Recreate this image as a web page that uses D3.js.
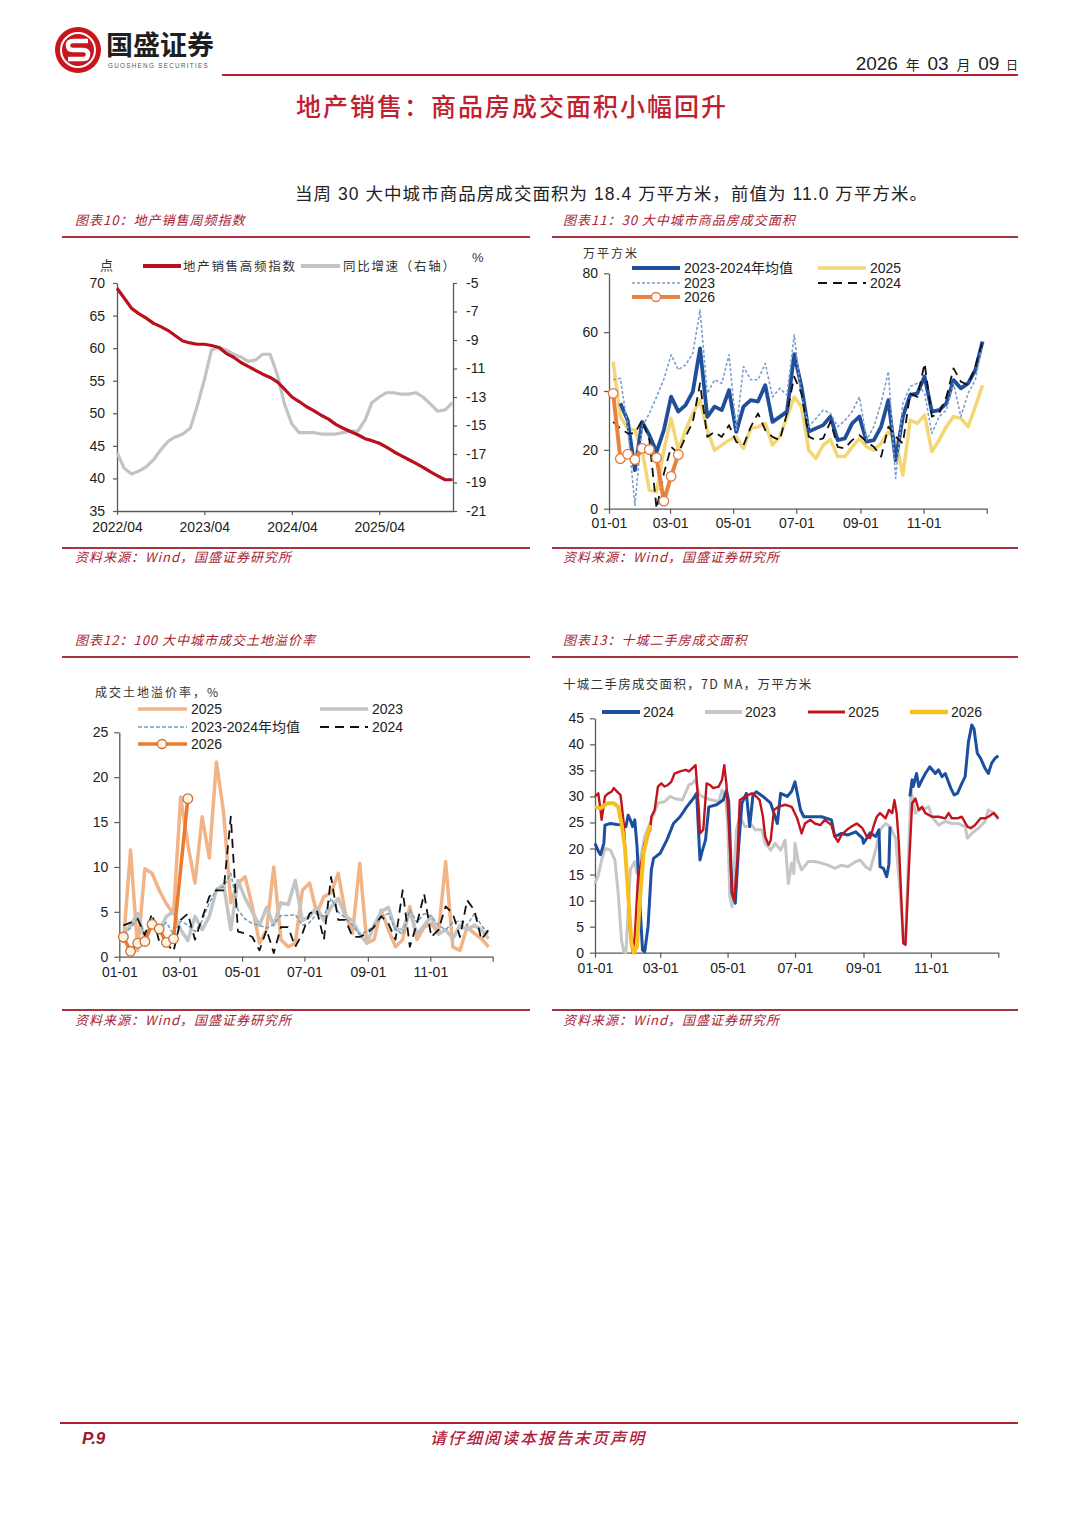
<!DOCTYPE html>
<html><head><meta charset="utf-8">
<script src="https://cdn.jsdelivr.net/npm/d3@7"></script>
<style>body{margin:0;background:#fff} svg{display:block}</style>
</head><body><svg id="page" width="1080" height="1526"></svg>
<script>
// ---------------- DATA ----------------
// Chart 10: monthly, starting 2022-04
const c10Start = [2022, 3];
const salesIndex = [69.2,67.7,66.1,65.3,64.6,63.8,63.3,62.7,61.9,61.1,60.8,60.6,60.6,60.4,60.1,59.2,58.6,57.8,57.2,56.6,56.0,55.5,54.8,53.7,52.5,51.8,51.0,50.4,49.7,49.1,48.3,47.7,47.2,46.7,46.1,45.8,45.4,44.8,44.1,43.5,42.9,42.3,41.7,41.0,40.4,39.8,39.8];
const salesYoY = [-16.9,-18.0,-18.4,-18.2,-17.9,-17.4,-16.7,-16.1,-15.8,-15.6,-15.2,-13.7,-11.8,-9.7,-9.5,-9.7,-10.0,-10.2,-10.5,-10.4,-10.0,-10.0,-11.5,-13.5,-14.9,-15.5,-15.5,-15.5,-15.6,-15.6,-15.6,-15.5,-15.4,-15.4,-14.6,-13.4,-13.0,-12.7,-12.7,-12.8,-12.8,-12.7,-13.0,-13.5,-14.0,-13.9,-13.4];
const c10LeftTicks = [35,40,45,50,55,60,65,70];
const c10RightTicks = [-21,-19,-17,-15,-13,-11,-9,-7,-5];
const c10XTicks = ['2022/04','2023/04','2024/04','2025/04'];

// Chart 11: weekly (week i), 万平方米
const area2023_24avg = [null,35.8,30.1,13.1,29.5,25,19.3,26.7,38.1,33,35.2,39.8,54.5,31.2,34.7,33.5,40.3,26.1,34.7,36.9,36.4,42,29.5,31.2,33,52.5,41.5,26.2,27.3,28.4,31.3,23.3,23.9,29,31.3,22.8,23.3,27.9,36.9,16.5,31.3,38.6,39.2,44.9,33,33.5,35.8,43.7,40.9,42.6,47.1,56.8];
const area2023 = [43.8,44.3,28,1.1,27.8,32.4,38,44,52.3,47.2,48.9,52.8,67.5,39.2,43.8,42.6,52.3,26.7,48.3,43.8,43.8,49.4,38,40.9,38.6,59.1,38,27.9,30.7,33.5,32.4,27.9,30,33,38,23.3,28,36,46.6,10.3,35.8,41.5,42.6,39.2,25.6,31.3,33.5,42.6,31.3,39.2,43.7,56.2];
const area2024 = [29.5,27.3,25.6,25.6,30.1,23.3,0,11.9,21,18.8,24.4,29.5,42.6,24.4,26.1,24.4,28.4,22.7,21.6,27.8,32.4,26.7,24.4,23.3,32.4,44.9,39.2,24.5,23.3,23.9,29.6,21,20.5,23.3,25,22.8,21,17.7,27.9,24.5,22.2,39.2,38,49.4,31.3,32.4,38,47.7,43.2,42,48.3,56.8];
const area2025 = [50,31.2,27.3,26.7,19.9,6.3,5.7,19.9,30.7,19.9,26.7,32.4,36.9,26.7,19.9,21.6,23.3,24.4,20.5,27.3,27.8,29,21.6,24.4,31.2,38,34.7,19.9,17.1,21.6,23.5,17.7,17.7,21,23.8,21,19.9,22.2,26.2,23.3,11.4,30.1,29,31.8,19.4,23.3,27.9,31.3,30.7,27.9,34.7,42];
const area2026 = [39.2,17.0,18.5,16.7,20.5,20.1,17.3,2.6,11.0,18.4];
const c11YTicks = [0,20,40,60,80];

// Chart 12: weekly, 溢价率 %
const land2025 = [1.5,11.9,0.7,9.8,9.3,7.4,5.9,4.8,17.8,12.5,8.2,15.6,11.0,21.7,16.0,6.0,8.2,8.9,5.6,1.5,3.0,10.0,1.9,1.1,1.5,7.4,8.2,4.8,6.7,7.1,9.3,4.8,2.6,10.4,1.5,1.9,5.2,3.0,1.1,1.9,5.6,1.9,3.3,3.7,2.6,10.6,1.1,0.7,3.3,2.6,2.0,1.1];
const land2023 = [2.5,3.5,4.8,2.0,3.8,2.8,4.5,5.0,3.0,1.8,4.5,3.0,4.5,7.5,8.0,3.0,8.5,6.5,5.0,3.5,5.5,3.5,6.0,5.8,8.5,4.0,4.5,5.5,4.0,5.5,6.5,4.5,4.0,2.5,1.5,3.5,5.0,5.5,3.0,3.0,5.0,2.5,3.5,4.5,2.5,3.0,2.0,3.5,3.0,3.5,3.0,2.0];
const land2023_24avg = [2.5,3.2,4.3,2.5,3.5,3.0,3.8,2.5,4.0,3.5,2.8,4.0,6.0,7.5,7.8,9.3,5.2,4.2,3.7,3.5,3.2,3.6,4.6,4.6,4.7,3.5,3.8,4.8,4.5,6.5,5.0,4.3,3.5,2.5,2.8,3.5,4.5,4.8,3.0,2.5,5.2,3.8,4.8,4.5,3.5,3.0,3.8,4.0,3.5,4.8,3.5,2.5];
const land2024 = [3.5,3.8,4.2,2.4,4.8,1.7,1.5,0.6,4.1,4.8,1.9,4.3,6.7,7.4,7.4,15.6,2.8,2.6,2.2,0.7,3.0,0.4,3.3,3.3,1.1,2.6,4.8,5.2,1.9,8.9,4.1,4.1,2.2,2.2,2.6,3.3,4.5,3.7,1.9,7.4,1.1,3.7,7.0,2.2,3.0,5.6,4.8,2.2,6.3,5.2,1.9,3.0];
const land2026 = [2.2,0.6,1.5,1.7,3.6,3.1,1.6,2.0,null,17.6];
const c12YTicks = [0,5,10,15,20,25];

// Chart 13: 7D MA, day of year -> value
const sh2024Day = [0,3,5,8,9,14,20,26,28,30,32,34,36,38,41,43,45,48,51,53,59,65,71,77,83,89,92,95,97,100,103,110,116,119,121,124,127,130,133,137,140,143,146,152,159,165,168,174,178,181,186,189,193,205,214,217,223,229,236,242,243,249,254,257,258,261,264,266,267,276,285,287,288,291,293,296,299,303,308,311,314,317,322,325,328,332,335,338,341,343,346,349,353,356,359,362,365];
const sh2024Val = [21,19.5,18.8,21,24.5,24.8,24.6,24.5,24.2,26.4,25.5,24.2,25.5,20.5,8,0.5,0.2,5,15.9,18.1,19.1,21.6,24.8,26.1,28,29.6,30.6,17.8,19.5,21.6,28,28.4,29.3,31.2,29,11.4,9.5,20.4,28.7,30.6,24.2,30.3,30.9,30,28.7,24.8,30.6,30,31,32.8,27.4,26.1,26.1,26.1,25.5,22.3,22.9,22.6,23.2,22,21,23,22.3,23.6,16.5,16.2,14.6,17,24.2,null,30,33.2,31.9,34.4,31.9,33.2,34.4,35.7,34.4,35.1,33.8,34.4,31.6,30.3,30.6,32.5,33.8,40.5,43.7,43,38.3,37.3,35.4,34.4,36.4,37.3,37.8];
const sh2023Day = [0,3,6,9,14,18,21,24,26,28,30,32,36,38,42,45,51,57,63,68,72,79,85,88,91,94,97,101,106,112,115,118,120,122,124,128,131,136,142,145,151,154,159,163,168,172,175,178,180,181,184,187,193,199,205,211,217,223,229,236,240,245,249,254,258,263,267,272,276,279,281,284,286,290,293,299,302,305,311,317,323,329,335,337,341,347,353,356,361,365];
const sh2023Val = [13.3,14.9,17.8,20,19.7,17.8,11.4,2.4,0.2,0,8,16,17.5,15.2,19,22.3,25.5,28.7,29,30,29.6,29.3,32.2,32.5,33.2,30.5,30,29.6,29.3,29,31.2,30,25,10.8,8.8,23.6,26.1,24.2,24.5,23.6,23.6,21,19.7,21,19.7,21.6,13.3,17.2,15.2,21,17.5,15.9,17.5,17.5,17.2,16.8,16.2,16.8,16.5,17.5,17.8,16.5,15.9,19.7,23.6,24.8,24.2,22,12,3,2,20,31.2,26.8,27.4,27.7,28,26.1,24.5,25.2,24.8,24.8,24.2,22,22.9,23.9,25.2,27.4,26.8,25.5];
const sh2025Day = [0,3,5,6,9,12,15,17,20,23,24,26,29,32,34,36,39,43,45,50,51,54,57,60,63,66,69,72,77,82,85,88,91,94,95,98,101,104,107,112,115,117,119,121,124,126,129,131,136,142,146,149,152,154,157,159,162,166,172,178,183,187,190,195,199,204,208,214,217,220,223,228,232,237,242,246,249,252,255,258,263,266,269,271,273,275,279,281,284,287,290,293,296,299,305,311,317,320,323,328,332,337,340,344,349,353,356,361,365];
const sh2025Val = [30,30.6,27.4,25.5,30,30.6,30.9,31.6,30.9,30.3,28.7,24.8,14,3.1,0,3.1,14.6,18.4,21,23.6,26.1,27.4,31.9,32.5,31.9,32.2,32.8,34.4,34.8,35.1,34.8,35.4,36,27.4,22.9,23.6,32.5,32.2,31.6,31.9,33.2,36,32.2,25,11.4,10.1,18.4,29.3,30,30.6,30,29.3,26.1,22.3,20.7,21.6,27.4,28,28.4,28,25.8,22.9,24.8,25.5,24.8,24.5,25.5,24.5,22.3,21.3,22.6,23.6,24.2,24.8,23.9,22.3,22,24.2,26.1,26.8,25.8,27.4,26.8,29.3,26.8,21,1.8,1.5,15.9,28.7,29.6,27.4,28,26.8,26.1,26.1,25.8,26.8,25.8,25.8,26.1,24.2,23.9,24.5,25.8,25.8,26.1,26.8,25.8];
const sh2026Day = [0,5,11,17,21,24,27,30,33,35,38,41,44,48,50];
const sh2026Val = [28,27.7,28.7,28.7,28,24.8,20.4,11.4,1.8,0,1.2,11.4,19.1,22.9,24.5];
const c13YTicks = [0,5,10,15,20,25,30,35,40,45];
const monthTicks = [0,2,4,6,8,10]; // Jan, Mar, May, Jul, Sep, Nov

// ---------------- HELPERS ----------------
const svg = d3.select('#page');
const NUM = "'Liberation Sans', Arial, 'Noto Sans CJK SC', sans-serif";
const CJK = "'Noto Sans CJK SC', 'Noto Sans', sans-serif";
const DRED = '#a82334';
const AX = '#595959';

function txt(x, y, s, o = {}) {
  const t = svg.append('text').attr('x', x).attr('y', y).text(s)
    .attr('font-family', o.f || CJK).attr('font-size', o.size || 13)
    .attr('fill', o.fill || '#222').attr('text-anchor', o.anchor || 'start')
    .attr('font-weight', o.weight || 'normal').attr('font-style', o.style || 'normal');
  if (o.ls != null) t.attr('letter-spacing', o.ls);
  return t;
}
function hline(x1, x2, y, c, w) {
  svg.append('line').attr('x1', x1).attr('x2', x2).attr('y1', y).attr('y2', y)
    .attr('stroke', c).attr('stroke-width', w);
}
function styleAxis(g, size) {
  g.attr('font-family', null).attr('font-size', null);
  g.select('.domain').attr('stroke', AX).attr('stroke-width', 1.3);
  g.selectAll('.tick line').attr('stroke', AX).attr('stroke-width', 1.2);
  g.selectAll('.tick text').attr('font-family', NUM).attr('font-size', size).attr('fill', '#222');
}
function drawSeries(g, xs, ys, x, y, st) {
  const pts = xs.map((d, i) => [d, ys[i]]);
  const line = d3.line().defined(d => d[1] != null).x(d => x(d[0])).y(d => y(d[1]));
  g.append('path').datum(pts).attr('d', line).attr('fill', 'none')
    .attr('stroke', st.c).attr('stroke-width', st.w)
    .attr('stroke-dasharray', st.dash || null)
    .attr('stroke-linejoin', 'round').attr('stroke-linecap', st.cap || 'butt');
  return pts;
}
function legendLine(x1, x2, y, st) {
  svg.append('line').attr('x1', x1).attr('x2', x2).attr('y1', y).attr('y2', y)
    .attr('stroke', st.c).attr('stroke-width', st.w).attr('stroke-dasharray', st.dash || null);
}
const doy = d => new Date(2025, 0, 1 + d);
const weekDates = n => d3.range(n).map(i => new Date(2025, 0, 5 + 7 * i));
const fmtMD = d3.timeFormat('%m-%d');
const plain = d => String(d);

// ---------------- HEADER ----------------
svg.append('circle').attr('cx', 78).attr('cy', 50).attr('r', 23).attr('fill', '#c8161d');
svg.append('circle').attr('cx', 78).attr('cy', 50).attr('r', 17).attr('fill', 'none').attr('stroke', '#fff').attr('stroke-width', 2);
svg.append('path').attr('d', 'M88 41 L73 41 Q68 41 68 45.5 Q68 50 73 50 L83 50 Q88 50 88 54.5 Q88 59 83 59 L68 59')
  .attr('fill', 'none').attr('stroke', '#fff').attr('stroke-width', 4.5);
txt(106, 55, '国盛证券', { size: 27, weight: 'bold', fill: '#1e1e1e' });
txt(108, 68, 'GUOSHENG SECURITIES', { size: 6.3, f: NUM, fill: '#555', ls: 1.3 });
hline(222, 1018, 75, '#b02232', 2);
const dt = svg.append('text').attr('x', 1018).attr('y', 70).attr('text-anchor', 'end').attr('fill', '#222').attr('font-family', NUM);
[['2026', 19], ['  年  ', 14], ['03', 19], ['  月  ', 14], ['09', 19], ['  日', 12]].forEach(([s, z]) => dt.append('tspan').attr('font-size', z).attr('xml:space', 'preserve').text(s));
dt.attr('style', 'white-space:pre');

txt(512, 116, '地产销售：商品房成交面积小幅回升', { size: 25, fill: '#c0212f', anchor: 'middle', weight: 500, ls: 2 });
txt(295, 200, '当周 30 大中城市商品房成交面积为 18.4 万平方米，前值为 11.0 万平方米。', { size: 17.5, f: NUM, fill: '#222', ls: 1.05 });

// section frames
const capO = { size: 13, fill: DRED, style: 'italic', ls: 1 };
txt(75, 225, '图表10：地产销售周频指数', capO);
txt(563, 225, '图表11：30 大中城市商品房成交面积', capO);
hline(62, 530, 237, '#a83440', 2); hline(552, 1018, 237, '#a83440', 2);
hline(62, 530, 548, '#a83440', 2); hline(552, 1018, 548, '#a83440', 2);
txt(75, 562, '资料来源：Wind，国盛证券研究所', capO);
txt(563, 562, '资料来源：Wind，国盛证券研究所', capO);

txt(75, 645, '图表12：100 大中城市成交土地溢价率', capO);
txt(563, 645, '图表13：十城二手房成交面积', capO);
hline(62, 530, 657, '#a83440', 2); hline(552, 1018, 657, '#a83440', 2);
hline(62, 530, 1010, '#a83440', 2); hline(552, 1018, 1010, '#a83440', 2);
txt(75, 1025, '资料来源：Wind，国盛证券研究所', capO);
txt(563, 1025, '资料来源：Wind，国盛证券研究所', capO);

// footer
hline(60, 1018, 1423, '#b02232', 2);
txt(82, 1444, 'P.9', { size: 17, f: NUM, weight: 'bold', style: 'italic', fill: '#a0182e' });
txt(538, 1444, '请仔细阅读本报告末页声明', { size: 16, fill: '#b0203a', anchor: 'middle', style: 'italic', weight: 500, ls: 2 });

// ---------------- CHART 10 ----------------
(function () {
  const g = svg.append('g');
  const dates = salesIndex.map((_, i) => new Date(c10Start[0], c10Start[1] + i, 1));
  const x = d3.scaleTime().domain([new Date(2022, 3, 1), new Date(2026, 1, 3)]).range([117, 453]);
  const yL = d3.scaleLinear().domain([35, 70]).range([511, 283]);
  const yR = d3.scaleLinear().domain([-21, -5]).range([511, 283]);
  const parse = d3.timeParse('%Y/%m');
  styleAxis(g.append('g').attr('transform', 'translate(117,0)').call(d3.axisLeft(yL).tickValues(c10LeftTicks).tickFormat(plain).tickSize(4).tickSizeOuter(0).tickPadding(8)), 14);
  styleAxis(g.append('g').attr('transform', 'translate(453,0)').call(d3.axisRight(yR).tickValues(c10RightTicks).tickFormat(plain).tickSize(4).tickSizeOuter(0).tickPadding(9)), 14);
  styleAxis(g.append('g').attr('transform', 'translate(0,511)').call(d3.axisBottom(x).tickValues(c10XTicks.map(parse)).tickFormat(d3.timeFormat('%Y/%m')).tickSize(4).tickSizeOuter(0).tickPadding(7)), 14);
  drawSeries(g, dates, salesYoY, x, yR, { c: '#c3c3c3', w: 3.2 });
  drawSeries(g, dates, salesIndex, x, yL, { c: '#b8101c', w: 3.2 });
  txt(100, 270, '点', { size: 13, fill: '#333' });
  txt(472, 262, '%', { size: 13, f: NUM, fill: '#333' });
  legendLine(143, 181, 266, { c: '#b8101c', w: 4 });
  txt(183, 271, '地产销售高频指数', { size: 12.5, fill: '#333', ls: 1.7 });
  legendLine(301, 340, 266, { c: '#c3c3c3', w: 4 });
  txt(343, 271, '同比增速（右轴）', { size: 12.5, fill: '#333', ls: 1.7 });
})();

// ---------------- CHART 11 ----------------
(function () {
  const g = svg.append('g');
  const wd = weekDates(52);
  const x = d3.scaleTime().domain([new Date(2025, 0, 1), new Date(2026, 0, 1)]).range([609, 986.7]);
  const y = d3.scaleLinear().domain([0, 80]).range([508.7, 273.3]);
  styleAxis(g.append('g').attr('transform', 'translate(609,0)').call(d3.axisLeft(y).tickValues(c11YTicks).tickSize(5).tickSizeOuter(0).tickPadding(6)), 14);
  styleAxis(g.append('g').attr('transform', 'translate(0,508.7)').call(d3.axisBottom(x).tickValues(monthTicks.map(m => new Date(2025, m, 1)).concat([new Date(2026,0,1)])).tickFormat(d => d.getFullYear() === 2026 ? '' : fmtMD(d)).tickSize(5).tickSizeOuter(0).tickPadding(4)), 14);
  const sY25 = { c: '#f3d774', w: 3.5 }, sAvg = { c: '#1f4e9a', w: 3.8 }, s23 = { c: '#7b9fd0', w: 1.6, dash: '3,2' }, s24 = { c: '#111', w: 1.8, dash: '9,6' }, s26 = { c: '#e9823f', w: 4 };
  drawSeries(g, wd, area2025, x, y, sY25);
  drawSeries(g, wd, area2023_24avg, x, y, sAvg);
  drawSeries(g, wd, area2023, x, y, s23);
  drawSeries(g, wd, area2024, x, y, s24);
  const p26 = drawSeries(g, wd.slice(0, area2026.length), area2026, x, y, s26);
  g.selectAll('.m26').data(p26).join('circle').attr('cx', d => x(d[0])).attr('cy', d => y(d[1])).attr('r', 4.8)
    .attr('fill', '#fff').attr('stroke', '#e07a40').attr('stroke-width', 1.3);
  txt(583, 258, '万平方米', { size: 12, fill: '#333', ls: 2 });
  const lf = { size: 14, f: NUM, fill: '#222' };
  legendLine(632, 680, 268, sAvg); txt(684, 273, '2023-2024年均值', lf);
  legendLine(632, 680, 283, s23); txt(684, 288, '2023', lf);
  legendLine(632, 680, 297, s26);
  svg.append('circle').attr('cx', 656).attr('cy', 297).attr('r', 4.5).attr('fill', '#fff').attr('stroke', '#e07a40').attr('stroke-width', 1.3);
  txt(684, 302, '2026', lf);
  legendLine(818, 866, 268, sY25); txt(870, 273, '2025', lf);
  legendLine(818, 866, 283, s24); txt(870, 288, '2024', lf);
})();

// ---------------- CHART 12 ----------------
(function () {
  const g = svg.append('g');
  const wd = weekDates(52);
  const x = d3.scaleTime().domain([new Date(2025, 0, 1), new Date(2026, 0, 1)]).range([119.3, 492.7]);
  const y = d3.scaleLinear().domain([0, 25]).range([956.7, 732.3]);
  styleAxis(g.append('g').attr('transform', 'translate(119.3,0)').call(d3.axisLeft(y).tickValues(c12YTicks).tickSize(5).tickSizeOuter(0).tickPadding(6)), 14);
  styleAxis(g.append('g').attr('transform', 'translate(0,956.7)').call(d3.axisBottom(x).tickValues(monthTicks.map(m => new Date(2025, m, 1)).concat([new Date(2026,0,1)])).tickFormat(d => d.getFullYear() === 2026 ? '' : fmtMD(d)).tickSize(5).tickSizeOuter(0).tickPadding(5)), 14);
  const s25 = { c: '#f2b486', w: 3.5 }, s23 = { c: '#c4c4c4', w: 3.5 }, sAvg = { c: '#6f9fbf', w: 1.5, dash: '4,2' }, s24 = { c: '#111', w: 1.8, dash: '9,6' }, s26 = { c: '#ec7a2e', w: 3.5 };
  drawSeries(g, wd, land2025, x, y, s25);
  drawSeries(g, wd, land2023, x, y, s23);
  drawSeries(g, wd, land2023_24avg, x, y, sAvg);
  drawSeries(g, wd, land2024, x, y, s24);
  const pts = wd.slice(0, land2026.length).map((d, i) => [d, land2026[i]]).filter(d => d[1] != null);
  drawSeries(g, pts.map(d => d[0]), pts.map(d => d[1]), x, y, s26);
  g.selectAll('.m26').data(pts).join('circle').attr('cx', d => x(d[0])).attr('cy', d => y(d[1])).attr('r', 4.8)
    .attr('fill', '#fdf3e3').attr('stroke', '#c8703a').attr('stroke-width', 1.3);
  txt(95, 697, '成交土地溢价率，%', { size: 12, fill: '#333', ls: 2 });
  const lf = { size: 14, f: NUM, fill: '#222' };
  legendLine(138, 187, 709, s25); txt(191, 714, '2025', lf);
  legendLine(138, 187, 727, sAvg); txt(191, 732, '2023-2024年均值', lf);
  legendLine(138, 187, 744, s26);
  svg.append('circle').attr('cx', 162).attr('cy', 744).attr('r', 4.5).attr('fill', '#fdf3e3').attr('stroke', '#c8703a').attr('stroke-width', 1.3);
  txt(191, 749, '2026', lf);
  legendLine(320, 368, 709, s23); txt(372, 714, '2023', lf);
  legendLine(320, 368, 727, s24); txt(372, 732, '2024', lf);
})();

// ---------------- CHART 13 ----------------
(function () {
  const g = svg.append('g');
  const x = d3.scaleTime().domain([new Date(2025, 0, 1), new Date(2026, 0, 1)]).range([595, 998.3]);
  const y = d3.scaleLinear().domain([0, 45]).range([952.7, 718.3]);
  styleAxis(g.append('g').attr('transform', 'translate(595,0)').call(d3.axisLeft(y).tickValues(c13YTicks).tickSize(5).tickSizeOuter(0).tickPadding(6)), 14);
  styleAxis(g.append('g').attr('transform', 'translate(0,952.7)').call(d3.axisBottom(x).tickValues(monthTicks.map(m => new Date(2025, m, 1)).concat([new Date(2026,0,1)])).tickFormat(d => d.getFullYear() === 2026 ? '' : fmtMD(d)).tickSize(5).tickSizeOuter(0).tickPadding(5)), 14);
  const s24 = { c: '#1c4f9e', w: 3 }, s23 = { c: '#c6c6c6', w: 3 }, s25 = { c: '#c3141d', w: 2.4 }, s26 = { c: '#f6c01f', w: 4 };
  drawSeries(g, sh2023Day.map(doy), sh2023Val, x, y, s23);
  drawSeries(g, sh2024Day.map(doy), sh2024Val, x, y, s24);
  drawSeries(g, sh2025Day.map(doy), sh2025Val, x, y, s25);
  drawSeries(g, sh2026Day.map(doy), sh2026Val, x, y, s26);
  txt(563, 689, '十城二手房成交面积，7D MA，万平方米', { size: 12.5, fill: '#333', ls: 1.3 });
  const lf = { size: 14, f: NUM, fill: '#222' };
  legendLine(602, 640, 712, { c: s24.c, w: 4 }); txt(643, 717, '2024', lf);
  legendLine(705, 742, 712, { c: s23.c, w: 4 }); txt(745, 717, '2023', lf);
  legendLine(808, 845, 712, { c: s25.c, w: 3 }); txt(848, 717, '2025', lf);
  legendLine(910, 948, 712, { c: s26.c, w: 4.5 }); txt(951, 717, '2026', lf);
})();
</script></body></html>
